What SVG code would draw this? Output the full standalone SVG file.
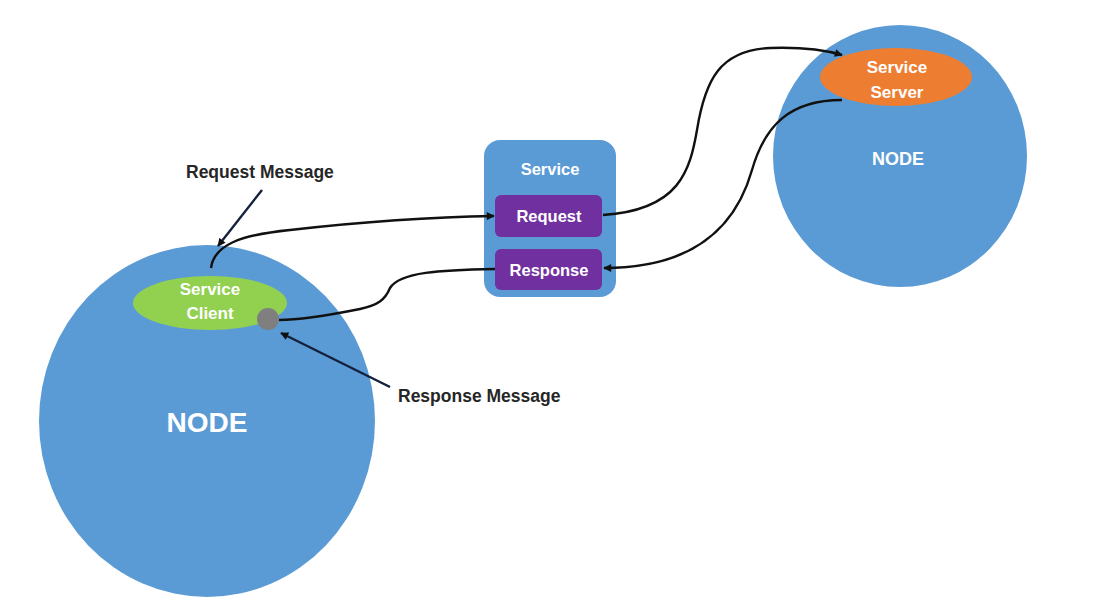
<svg xmlns="http://www.w3.org/2000/svg" width="1114" height="599" viewBox="0 0 1114 599">
  <defs>
    <marker id="arrow" viewBox="0 0 10 10" refX="9" refY="5" markerWidth="9" markerHeight="8" markerUnits="userSpaceOnUse" orient="auto">
      <path d="M0,0 L10,5 L0,10 z" fill="#111"/>
    </marker>
    <style>
      .node { fill: #5B9BD5; }
      .lbl { font-family: "Liberation Sans", Arial, sans-serif; font-weight: bold; fill: #ffffff; text-anchor: middle; }
      .note { font-family: "Liberation Sans", Arial, sans-serif; font-weight: bold; font-size: 17.5px; fill: #262626; }
      .wire { fill: none; stroke: #111; stroke-width: 2.4; }
      .ptr { fill: none; stroke: #14213d; stroke-width: 2.4; }
    </style>
  </defs>
  <rect width="1114" height="599" fill="#ffffff"/>

  <!-- client node -->
  <g id="client-node">
    <ellipse class="node" cx="207" cy="421" rx="168" ry="176"/>
    <ellipse cx="210" cy="303" rx="77" ry="27" fill="#92D050"/>
    <text class="lbl" x="210" y="295" font-size="17">Service</text>
    <text class="lbl" x="210" y="319" font-size="17">Client</text>
    <text class="lbl" x="207" y="432" font-size="28">NODE</text>
    <circle cx="268" cy="319" r="11" fill="#7F7F7F"/>
  </g>

  <!-- server node -->
  <g id="server-node">
    <ellipse class="node" cx="900" cy="156" rx="127" ry="131"/>
    <ellipse cx="896" cy="77" rx="76" ry="29" fill="#ED7D31"/>
    <text class="lbl" x="897" y="73" font-size="17">Service</text>
    <text class="lbl" x="897" y="98" font-size="17">Server</text>
    <text class="lbl" x="898" y="165" font-size="18">NODE</text>
  </g>

  <!-- service definition -->
  <g id="service">
    <rect x="484" y="140" width="132" height="157" rx="16" fill="#5B9BD5"/>
    <text class="lbl" x="550" y="175" font-size="16.5">Service</text>
  </g>
  <g id="request">
    <rect x="495" y="195" width="107" height="42" rx="6" fill="#7030A0"/>
    <text class="lbl" x="549" y="222" font-size="16.5">Request</text>
  </g>
  <g id="response">
    <rect x="495" y="249" width="107" height="41" rx="6" fill="#7030A0"/>
    <text class="lbl" x="549" y="276" font-size="16.5">Response</text>
  </g>

  <!-- callout labels -->
  <g id="request-message">
    <text class="note" x="186" y="178">Request Message</text>
  </g>
  <g id="response-message">
    <text class="note" x="398" y="402">Response Message</text>
  </g>

  <!-- connectors -->
  <g id="connectors">
    <path class="ptr" d="M262,190 L218,246" marker-end="url(#arrow)"/>
    <path class="ptr" d="M390,387 L281,333" marker-end="url(#arrow)"/>
    <path class="wire" d="M211,268 C214,245 240,235 290,230 C360,222 430,217 494,216" marker-end="url(#arrow)"/>
    <path class="wire" d="M495,269 C440,270 400,272 390,288 C385,300 378,305 360,309 C330,315 300,320 279,320"/>
    <path class="wire" d="M603,215 C680,210 690,170 697,130 C705,80 720,50 770,48 C800,47 825,50 842,55" marker-end="url(#arrow)"/>
    <path class="wire" d="M842,100 C790,100 765,125 752,170 C735,230 690,268 604,268" marker-end="url(#arrow)"/>
  </g>
</svg>
